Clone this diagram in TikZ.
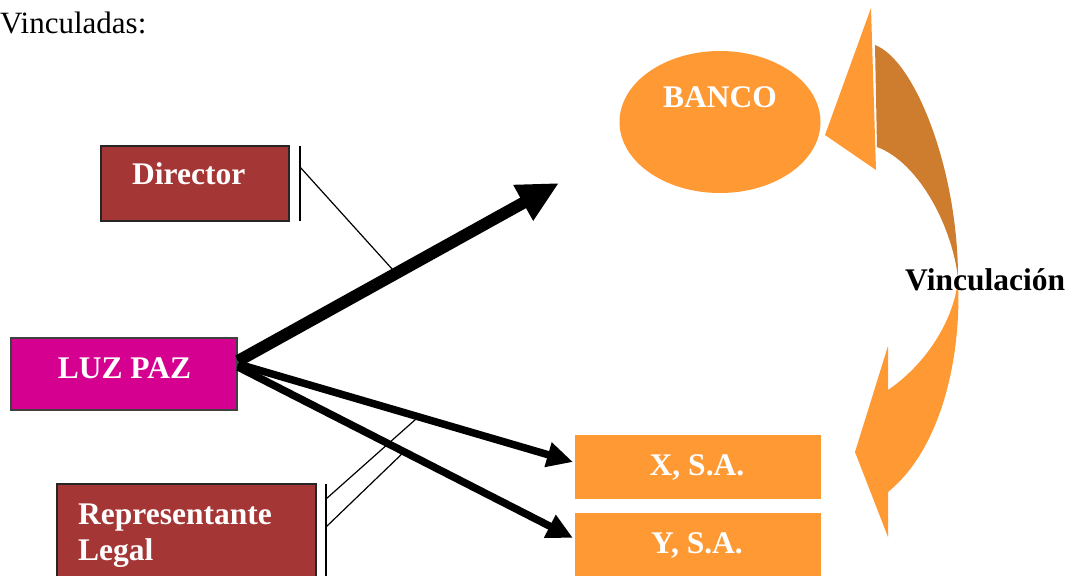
\documentclass[tikz,border=0pt]{standalone}
\usepackage{fontspec}
\setmainfont{Liberation Serif}
\usetikzlibrary{arrows.meta,shapes.geometric}
\definecolor{boxred}{HTML}{A53636}
\definecolor{luzmag}{HTML}{D5008F}
\definecolor{orangeA}{HTML}{FF9933}
\definecolor{orangeB}{HTML}{CD7D2D}
\begin{document}
\begin{tikzpicture}[x=1pt,y=-1pt,
  txt/.style={font=\fontsize{31.5}{36}\selectfont\bfseries, text=white, inner sep=0pt},
  redbox/.style={rectangle, draw=black!85, line width=1.6pt, fill=boxred, inner sep=0pt},
  orbox/.style={rectangle, fill=orangeA, inner sep=0pt},
  bigarrow/.style={line width=12pt, -{Triangle[length=41pt,width=38pt]}},
  midarrow/.style={line width=7.5pt, -{Triangle[length=26pt,width=24pt]}},
  bracket/.style={line width=1.8pt},
  leader/.style={line width=1.2pt}]
\useasboundingbox (0,0) rectangle (1077,576);

% heading
\node[anchor=base west, inner sep=0pt, font=\fontsize{31}{36}\selectfont] (head) at (0,33) {Vinculadas:};

% people boxes
\node[redbox, minimum width=188pt, minimum height=75pt] (dir) at (195,183.5) {};
\node[txt, anchor=base west] (dirtxt) at (132,184) {Director};

\node[rectangle, draw=black!75, line width=1.6pt, fill=luzmag, inner sep=0pt,
      minimum width=226pt, minimum height=72pt] (luz) at (124,374) {};
\node[txt, anchor=base] (luztxt) at (124.5,378) {LUZ PAZ};

\node[redbox, minimum width=259pt, minimum height=116pt] (rep) at (186.5,542) {};
\node[txt, anchor=base west] (reptxt) at (78,524) {Representante};
\node[txt, anchor=base west] (legtxt) at (78,560) {Legal};

% entities
\node[ellipse, fill=orangeA, minimum width=201pt, minimum height=142pt, inner sep=0pt] (banco) at (720,122) {};
\node[txt, anchor=base] (bancotxt) at (720,107) {BANCO};

\node[orbox, minimum width=246pt, minimum height=64pt] (xsa) at (698,467) {};
\node[txt, anchor=base] (xtxt) at (697,475) {X, S.A.};
\node[orbox, minimum width=246pt, minimum height=87pt] (ysa) at (698,556.5) {};
\node[txt, anchor=base] (ytxt) at (697,553) {Y, S.A.};

% arrows from LUZ PAZ
\coordinate (s1) at (238,361);
\coordinate (s2) at (238,364);
\coordinate (s3) at (238,367);
\coordinate (tipb) at (559,183);
\coordinate (tipx) at (573,462);
\coordinate (tipy) at (573,538);
\draw[bigarrow] (s1) -- (tipb);
\draw[midarrow] (s2) -- (tipx);
\draw[midarrow] (s3) -- (tipy);

% role brackets and leaders
\coordinate (db1) at (300,146);
\coordinate (db2) at (300,221);
\coordinate (dl1) at (300,167);
\coordinate (dl2) at (393,270);
\draw[bracket] (db1) -- (db2);
\draw[leader] (dl1) -- (dl2);

\coordinate (rb1) at (326,484);
\coordinate (rb2) at (326,600);
\coordinate (rl1) at (326,499);
\coordinate (rl2) at (416,419);
\coordinate (rl3) at (326,527);
\coordinate (rl4) at (406,450);
\draw[bracket] (rb1) -- (rb2);
\draw[leader] (rl1) -- (rl2);
\draw[leader] (rl3) -- (rl4);

% curved linking arrow
\fill[orangeA] (871,8) -- (825,135) -- (876,170) -- cycle;
\fill[orangeB] (875,45) .. controls (915,60) and (958,170) .. (958,278)
  .. controls (952,225) and (918,162) .. (877,147) -- cycle;
\fill[orangeA] (958,278) .. controls (955,320) and (925,365) .. (888,390)
  -- (888,346) -- (855,452) -- (888,537) -- (888,492)
  .. controls (940,450) and (962,360) .. (958,278) -- cycle;
\node[anchor=base west, inner sep=0pt, font=\fontsize{31.5}{36}\selectfont\bfseries] (vinc) at (905,290) {Vinculación};
\end{tikzpicture}
\end{document}
